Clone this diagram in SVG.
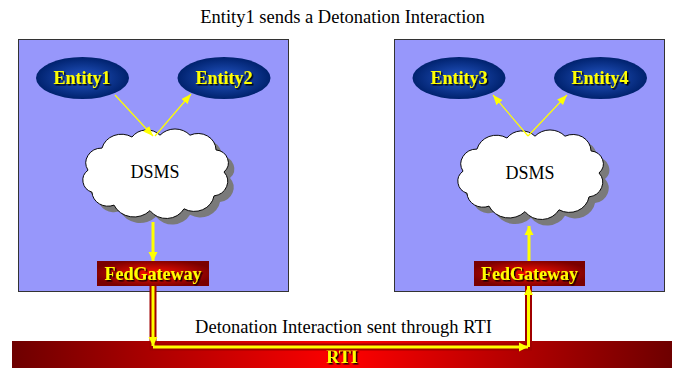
<svg xmlns="http://www.w3.org/2000/svg" width="675" height="368" viewBox="0 0 675 368">
<style>
.t{font-family:"Liberation Serif","Times New Roman",serif;font-size:18px;fill:#000;text-anchor:middle}
.big{font-size:18.5px}
.y{font-weight:bold;fill:#ffff00;filter:url(#ts)}
.box{fill:#9797fb;stroke:#333;stroke-width:1}
.ent{fill:url(#entG)}
.gw{fill:url(#gwG)}
.cloud{fill:#fff;stroke:#000;stroke-width:1}
.shadow{fill:#7a7a7a}
.thin{stroke:#ffff00;stroke-width:1.2;fill:none;marker-end:url(#ah)}
.thick{stroke:#ffff00;stroke-width:3;fill:none;marker-end:url(#ahb)}
.band{stroke:#a00000;stroke-width:7;fill:none}
</style>
<defs>
<filter id="ts" x="-10%" y="-20%" width="130%" height="150%">
<feDropShadow dx="1.5" dy="1.5" stdDeviation="0.3" flood-color="#000" flood-opacity="0.9"/>
</filter>
<radialGradient id="entG" cx="50%" cy="50%" r="50%">
<stop offset="0" stop-color="#2456c6"/>
<stop offset="1" stop-color="#00226e"/>
</radialGradient>
<radialGradient id="gwG" cx="50%" cy="50%" r="55%">
<stop offset="0" stop-color="#ff1000"/>
<stop offset="1" stop-color="#7a0000"/>
</radialGradient>
<linearGradient id="rtiG" x1="0" y1="0" x2="1" y2="0">
<stop offset="0" stop-color="#6e0000"/>
<stop offset="0.5" stop-color="#ff0000"/>
<stop offset="1" stop-color="#6e0000"/>
</linearGradient>
<marker id="ah" markerUnits="userSpaceOnUse" markerWidth="12" markerHeight="10" refX="10" refY="5" orient="auto">
<path d="M0,1 L10,5 L0,9 Z" fill="#ffff00"/>
</marker>
<marker id="ahb" markerUnits="userSpaceOnUse" markerWidth="12" markerHeight="12" refX="9" refY="5" orient="auto">
<path d="M0,0.5 L9,5 L0,9.5 Z" fill="#ffff00"/>
</marker>
<path id="cloudP" d="M -66,-2 A 16,16 0 0,1 -52,-26 A 20,20 0 0,1 -22,-38 A 18,18 0 0,1 6,-40 A 20,20 0 0,1 36,-40 A 18,18 0 0,1 62,-24 A 14,14 0 0,1 70,0 A 16,16 0 0,1 60,26 A 20,20 0 0,1 30,40 A 20,20 0 0,1 -4,42 A 22,22 0 0,1 -40,36 A 16,16 0 0,1 -62,22 A 14,14 0 0,1 -66,-2 Z"/>
</defs>

<rect width="675" height="368" fill="#fff"/>

<text class="t big" x="342.5" y="23">Entity1 sends a Detonation Interaction</text>

<g id="federate1">
<rect class="box" x="18.5" y="39.5" width="270" height="252"/>
</g>
<g id="federate2">
<rect class="box" x="394.5" y="39.5" width="270" height="252"/>
</g>

<g id="rti">
<rect x="12" y="341" width="660" height="27" fill="url(#rtiG)"/>
<text class="t y" x="342" y="363">RTI</text>
</g>

<g id="entity1">
<ellipse class="ent" cx="82.5" cy="78" rx="46.5" ry="21"/>
<text class="t y" x="82" y="84">Entity1</text>
</g>
<g id="entity2">
<ellipse class="ent" cx="224" cy="78" rx="46.5" ry="21"/>
<text class="t y" x="224" y="84">Entity2</text>
</g>
<g id="entity3">
<ellipse class="ent" cx="459" cy="78" rx="46.5" ry="21"/>
<text class="t y" x="459" y="84">Entity3</text>
</g>
<g id="entity4">
<ellipse class="ent" cx="600.5" cy="78" rx="46.5" ry="21"/>
<text class="t y" x="600" y="84">Entity4</text>
</g>

<g id="dsms1">
<use href="#cloudP" class="shadow" transform="translate(160,178) scale(1,0.92)"/>
<use href="#cloudP" class="cloud" transform="translate(154,172) scale(1,0.92)"/>
<text class="t" x="155" y="178">DSMS</text>
</g>
<g id="dsms2">
<use href="#cloudP" class="shadow" transform="translate(535,179) scale(1,0.92)"/>
<use href="#cloudP" class="cloud" transform="translate(529,173) scale(1,0.92)"/>
<text class="t" x="530" y="179">DSMS</text>
</g>

<g id="connectors">
<line class="thin" x1="115" y1="95" x2="153" y2="136"/>
<line class="thin" x1="155" y1="136" x2="191" y2="94"/>
<line class="thin" x1="528" y1="136" x2="493" y2="95"/>
<line class="thin" x1="528" y1="136" x2="567" y2="95"/>
<line class="thick" x1="153" y1="222" x2="153" y2="261"/>
<line class="thick" x1="529" y1="261" x2="529" y2="226"/>
<polyline class="band" points="153,286 153,347 528.5,347 528.5,286"/>
<line class="thick" x1="153" y1="286" x2="153" y2="346"/>
<line class="thick" x1="153" y1="347" x2="528" y2="347"/>
<line class="thick" x1="528.5" y1="347" x2="528.5" y2="286"/>
</g>

<g id="gateway1">
<rect class="gw" x="97" y="261" width="112" height="25"/>
<text class="t y" x="153" y="280">FedGateway</text>
</g>
<g id="gateway2">
<rect class="gw" x="474" y="261" width="111" height="25"/>
<text class="t y" x="529.5" y="280">FedGateway</text>
</g>

<text class="t big" x="343.5" y="333">Detonation Interaction sent through RTI</text>
</svg>
